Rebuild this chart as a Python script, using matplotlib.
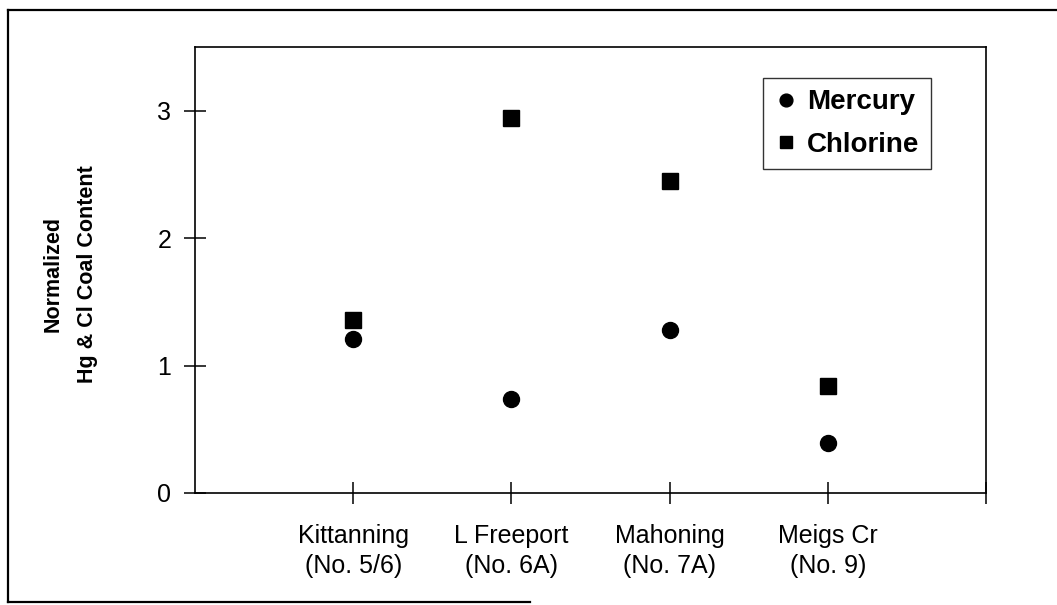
import matplotlib
matplotlib.use("Agg")
import matplotlib.pyplot as plt
from matplotlib.lines import Line2D

plt.rcParams["font.family"] = ["Liberation Sans", "DejaVu Sans"]

# Coal seams and normalized contents
seams = ["Kittanning\n(No. 5/6)", "L Freeport\n(No. 6A)", "Mahoning\n(No. 7A)", "Meigs Cr\n(No. 9)"]
mercury = [1.21, 0.74, 1.28, 0.39]
chlorine = [1.36, 2.94, 2.45, 0.84]
y_ticks = [0, 1, 2, 3]

fig = plt.figure(figsize=(10.57, 6.05), dpi=100)
ax = fig.add_axes([195 / 1057, 1 - 493 / 605, 791 / 1057, 446 / 605])

xs = list(range(1, len(seams) + 1))
ax.plot(xs, mercury, linestyle="none", marker="o", markersize=11.5,
        color="black", label="Mercury")
ax.plot(xs, chlorine, linestyle="none", marker="s", markersize=11,
        color="black", label="Chlorine")

ax.set_xlim(0, 5)
ax.set_ylim(0, 3.5)
ax.set_xticks(xs + [5])
ax.set_xticklabels(seams + [""], fontsize=18, linespacing=1.35)
ax.set_yticks(y_ticks)
ax.set_yticklabels([str(v) for v in y_ticks], fontsize=18)

ax.tick_params(axis="both", direction="inout", length=16, width=1.1, colors="black")
ax.tick_params(axis="x", pad=14)
ax.tick_params(axis="y", pad=9)
for sp in ax.spines.values():
    sp.set_linewidth(1.2)
    sp.set_color("black")

ax.set_ylabel("Normalized\nHg & Cl Coal Content", fontsize=15.5, fontweight="bold",
              linespacing=1.85)
ax.yaxis.set_label_coords(-0.122, 0.49)

leg = ax.legend(loc="upper right", bbox_to_anchor=(0.930, 0.930), borderaxespad=0,
                frameon=True, fancybox=False, markerscale=0.8,
                prop={"size": 20, "weight": "bold"}, handlelength=0.9,
                handletextpad=0.3, borderpad=0.4, labelspacing=0.6)
leg.get_frame().set_edgecolor("black")
leg.get_frame().set_linewidth(1.0)

# Outer border around the figure
border = dict(color="black", linewidth=1.6, transform=fig.transFigure)
fig.add_artist(Line2D([8 / 1057, 1.0], [1 - 10 / 605, 1 - 10 / 605], **border))
fig.add_artist(Line2D([8 / 1057, 8 / 1057], [1 - 10 / 605, 1 - 602 / 605], **border))
fig.add_artist(Line2D([8 / 1057, 530 / 1057], [1 - 602 / 605, 1 - 602 / 605], **border))

fig.savefig("out.png", dpi=100, facecolor="white")
